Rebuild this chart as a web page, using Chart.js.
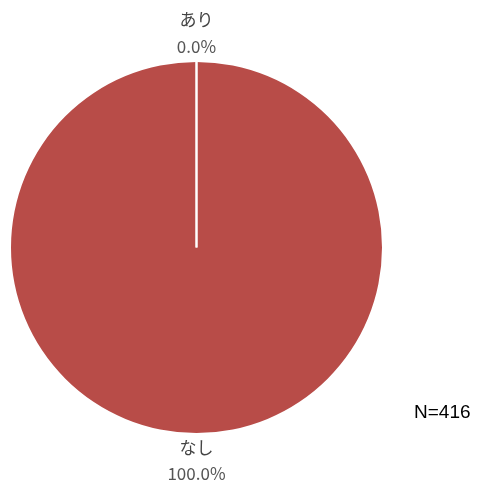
<!DOCTYPE html>
<html>
<head>
<meta charset="utf-8">
<script src="https://cdn.jsdelivr.net/npm/chart.js@4"></script>
<style>
html,body{margin:0;padding:0;background:#fff;}
#wrap{width:480px;height:485px;position:relative;}
</style>
</head>
<body>
<div id="wrap"><canvas id="c" width="480" height="485"></canvas></div>
<script>
const categories = ["あり", "なし"];
const counts = [0, 416];
const percentLabels = ["0.0%", "100.0%"];
const sliceColors = ["#4f81bd", "#B84C48"];
const totalLabel = "N=416";

const labelPlugin = {
  id: 'labels',
  afterDatasetsDraw(chart) {
    const ctx = chart.ctx;
    const meta = chart.getDatasetMeta(0);
    ctx.save();
    meta.data.forEach((arc, i) => {
      const p = arc.getProps(['x','y','startAngle','endAngle','outerRadius'], true);
      ctx.strokeStyle = '#ffffff';
      ctx.lineWidth = 2;
      ctx.beginPath();
      ctx.moveTo(p.x, p.y);
      ctx.lineTo(p.x + Math.cos(p.startAngle) * p.outerRadius, p.y + Math.sin(p.startAngle) * p.outerRadius);
      ctx.stroke();
      const mid = (p.startAngle + p.endAngle) / 2;
      const dirY = Math.sin(mid);
      const ex = p.x + Math.cos(mid) * p.outerRadius;
      const ey = p.y + dirY * p.outerRadius;
      ctx.textAlign = 'center';
      ctx.textBaseline = 'middle';
      let nameY, pctY;
      if (dirY < 0) { pctY = ey - 15; nameY = ey - 42; }
      else { nameY = ey + 15; pctY = ey + 41; }
      ctx.fillStyle = '#444444';
      ctx.font = '17px "Noto Sans CJK JP"';
      ctx.fillText(categories[i], ex, nameY);
      ctx.fillStyle = '#555555';
      ctx.font = '17px "Noto Sans CJK JP"';
      ctx.fillText(percentLabels[i], ex, pctY);
    });
    ctx.fillStyle = '#000000';
    ctx.font = '19px "Liberation Sans", Arial';
    ctx.textAlign = 'left';
    ctx.textBaseline = 'middle';
    ctx.fillText(totalLabel, 414, 413);
    ctx.restore();
  }
};

new Chart(document.getElementById('c'), {
  type: 'pie',
  data: {
    labels: categories,
    datasets: [{
      data: counts,
      backgroundColor: sliceColors,
      borderWidth: 0
    }]
  },
  options: {
    responsive: false,
    animation: false,
    layout: { padding: { left: 11, right: 98, top: 62, bottom: 52 } },
    plugins: { legend: { display: false }, tooltip: { enabled: false } }
  },
  plugins: [labelPlugin]
});
</script>
</body>
</html>
